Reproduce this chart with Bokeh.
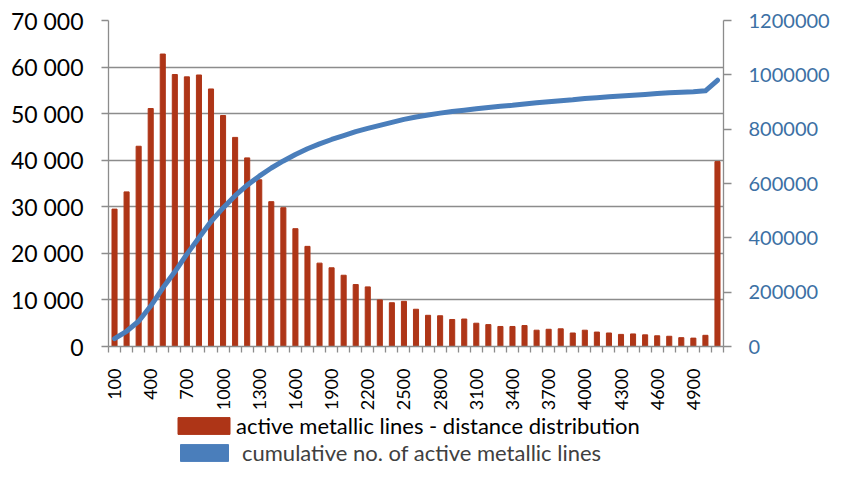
from math import pi
from bokeh.plotting import figure
from bokeh.layouts import column
from bokeh.models import (Range1d, LinearAxis, FixedTicker, Legend, LegendItem,
                          ColumnDataSource)
from bokeh.embed import file_html
from bokeh.resources import INLINE

# ---------------- data ----------------
categories = [str(v) for v in range(100, 5200, 100)]  # distance classes (m); last = >5000
distance_counts = [29500, 33200, 43000, 51100, 62800, 58400, 57900, 58300, 55300, 49600,
                   44900, 40500, 35800, 31100, 29800, 25300, 21500, 17900, 16900, 15300,
                   13300, 12800, 10000, 9400, 9700, 8000, 6700, 6600, 5800, 5900,
                   5000, 4700, 4300, 4300, 4500, 3500, 3700, 3800, 2900, 3500,
                   3100, 2900, 2600, 2700, 2500, 2300, 2200, 1900, 1800, 2400,
                   39700]
cumulative_lines = [29000, 56000, 93000, 149000, 215000, 275000, 340000, 400000, 460000, 510000,
                    555000, 594000, 627000, 657000, 683000, 707000, 728000, 746000, 762000, 776000,
                    791000, 803000, 814000, 825000, 836000, 845000, 852000, 859000, 865000, 870000,
                    875000, 880000, 884000, 888000, 893000, 897000, 901000, 905000, 908000, 913000,
                    916000, 919000, 922000, 925000, 928000, 931000, 934000, 936000, 938000, 941000,
                    980000]
label_every = 3
left_ticks = [0, 10000, 20000, 30000, 40000, 50000, 60000, 70000]
right_ticks = [0, 200000, 400000, 600000, 800000, 1000000, 1200000]
bar_label = "active metallic lines - distance distribution"
line_label = "cumulative no. of active metallic lines"

# ---------------- styles ----------------
BAR = "#AE3517"
LINE = "#4A7EBB"
GRID = "#8C8C8C"
FONT = "Lato"
W = 832
H_MAIN = 413
H_LEG = 53

n = len(categories)
xs = [i + 0.5 for i in range(n)]
src = ColumnDataSource(dict(x=xs, cat=categories, bars=distance_counts, cum=cumulative_lines))

p = figure(width=W, height=H_MAIN, x_range=Range1d(0, n), y_range=Range1d(0, 70000),
           output_backend="svg", toolbar_location=None,
           min_border_left=108, min_border_right=107, min_border_top=20,
           min_border_bottom=H_MAIN - 355)
p.extra_y_ranges = {"cum": Range1d(0, 1200000)}
p.outline_line_color = None
p.background_fill_color = "white"
p.border_fill_color = "white"

# x axis
xa = p.xaxis[0]
xa.ticker = FixedTicker(ticks=[xs[i] for i in range(0, n, label_every)],
                        minor_ticks=list(range(n + 1)))
xa.major_label_overrides = {xs[i]: categories[i] for i in range(0, n, label_every)}
xa.major_label_orientation = pi / 2
xa.major_tick_out = 0
xa.major_tick_in = 0
xa.minor_tick_out = 6
xa.minor_tick_in = 0
xa.minor_tick_line_color = GRID
xa.minor_tick_line_width = 1.3
xa.axis_line_color = GRID
xa.axis_line_width = 1.3
xa.major_label_standoff = 16
xa.major_label_text_font = FONT
xa.major_label_text_font_size = "18px"
xa.major_label_text_color = "#000000"

# left axis
ya = p.yaxis[0]
ya.ticker = FixedTicker(ticks=left_ticks)
ya.major_label_overrides = {t: f"{t:,}".replace(",", " ") for t in left_ticks}
ya.major_tick_out = 7
ya.major_tick_in = 0
ya.minor_tick_line_color = None
ya.major_tick_line_color = GRID
ya.major_tick_line_width = 1.3
ya.axis_line_color = GRID
ya.axis_line_width = 1.3
ya.major_label_standoff = 18
ya.major_label_text_font = FONT
ya.major_label_text_font_size = "23px"
ya.major_label_text_color = "#000000"

# right axis
ra = LinearAxis(y_range_name="cum", ticker=FixedTicker(ticks=right_ticks))
ra.major_label_overrides = {t: str(t) for t in right_ticks}
ra.major_tick_out = 8
ra.major_tick_in = 0
ra.minor_tick_line_color = None
ra.major_tick_line_color = GRID
ra.major_tick_line_width = 1.3
ra.axis_line_color = GRID
ra.axis_line_width = 1.3
ra.major_label_standoff = 17
ra.major_label_text_font = FONT
ra.major_label_text_font_size = "20px"
ra.major_label_text_color = "#3C70A4"
p.add_layout(ra, "right")

p.xgrid.visible = False
p.ygrid.grid_line_color = GRID
p.ygrid.grid_line_width = 1.3

bars_r = p.vbar(x="x", top="bars", width=0.42, source=src, fill_color=BAR, line_color=BAR)
line_r = p.line(x="x", y="cum", source=src, y_range_name="cum", line_width=5,
                line_color=LINE, line_cap="round", line_join="round")

# ---------------- legend strip (frame aligned with the chart above) ----------------
q = figure(width=W, height=H_LEG, output_backend="svg", toolbar_location=None,
           x_axis_type=None, y_axis_type=None,
           x_range=Range1d(0, 1), y_range=Range1d(0, 1),
           min_border_left=108, min_border_right=107, min_border_top=0, min_border_bottom=0)
q.outline_line_color = None
q.xgrid.visible = False
q.ygrid.visible = False
q.border_fill_color = "white"
q.background_fill_color = "white"
# swatch renderers: a single point kept outside the visible range, only used by the legend
sw_bar = q.vbar(x=[-5], top=[-5], bottom=[-6], width=0.1, fill_color=BAR, line_color=BAR)
sw_line = q.vbar(x=[-5], top=[-5], bottom=[-6], width=0.1, fill_color=LINE, line_color=LINE)

leg1 = Legend(items=[LegendItem(label=bar_label, renderers=[sw_bar])],
              location=(63, 27), padding=0, margin=0, border_line_color=None,
              background_fill_alpha=0, glyph_width=65, glyph_height=21, label_height=21,
              label_standoff=0, label_text_font=FONT, label_text_font_size="22px",
              label_text_color="#000000")
leg2 = Legend(items=[LegendItem(label=line_label, renderers=[sw_line])],
              location=(66, 0), padding=0, margin=0, border_line_color=None,
              background_fill_alpha=0, glyph_width=60, glyph_height=21, label_height=21,
              label_standoff=8, label_text_font=FONT, label_text_font_size="22px",
              label_text_color="#404040")
q.add_layout(leg1, "center")
q.add_layout(leg2, "center")

page = column(p, q, spacing=0)
open("out.html", "w").write(file_html(page, INLINE))
